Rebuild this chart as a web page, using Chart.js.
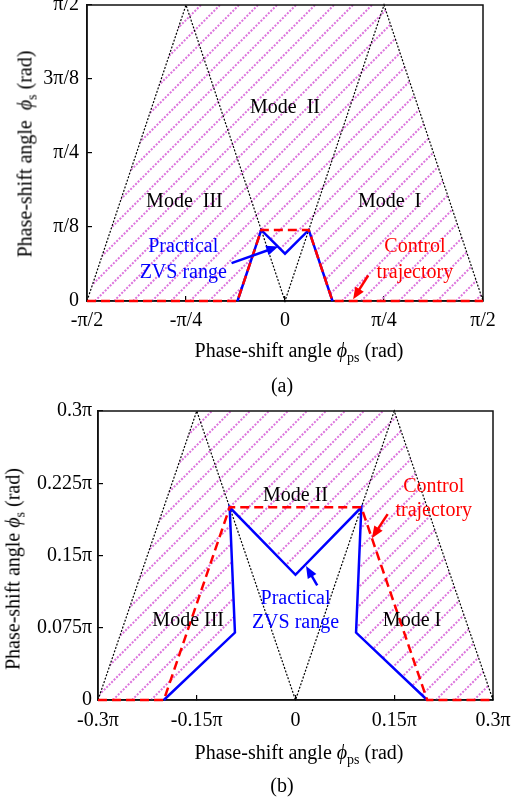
<!DOCTYPE html>
<html lang="en">
<head>
  <meta charset="UTF-8">
  <title>Phase-shift angle ZVS range</title>
  <script src="https://cdn.jsdelivr.net/npm/chart.js"></script>
  <style>
    body {
      margin: 0;
      width: 513px;
      height: 803px;
      position: relative;
      overflow: hidden;
      background: #fff;
      font-family: 'Liberation Serif', 'Times New Roman', serif;
    }
    canvas { position: absolute; left: 0; }
    #chartA { top: 0; }
    #chartB { top: 400px; }
    .label {
      position: absolute;
      font-size: 20px;
      color: #000;
      white-space: nowrap;
      transform: translate(-50%, -50%);
    }
    .ytitle { transform: translate(-50%, -50%) rotate(-90deg); }
    .phi { font-style: italic; }
    .sub { font-size: 14px; position: relative; top: 5px; }
  </style>
</head>
<body>
  <canvas id="chartA" width="513" height="400"></canvas>
  <canvas id="chartB" width="513" height="403"></canvas>

  <div class="label ytitle" style="left:25px; top:154px">Phase-shift angle&nbsp; <span class="phi">ϕ</span><span class="sub">s</span> (rad)</div>
  <div class="label" style="left:299px; top:350px">Phase-shift angle <span class="phi">ϕ</span><span class="sub">ps</span> (rad)</div>
  <div class="label" style="left:282px; top:385px">(a)</div>

  <div class="label ytitle" style="left:13px; top:569px">Phase-shift angle <span class="phi">ϕ</span><span class="sub">s</span> (rad)</div>
  <div class="label" style="left:299px; top:752px">Phase-shift angle <span class="phi">ϕ</span><span class="sub">ps</span> (rad)</div>
  <div class="label" style="left:282px; top:785px">(b)</div>

  <script>
    // all angles are in units of pi rad

    // (a)
    const xTicksA = [-0.5, -0.25, 0, 0.25, 0.5];
    const xTickLabelsA = ['-π/2', '-π/4', '0', 'π/4', 'π/2'];
    const yTicksA = [0, 0.125, 0.25, 0.375, 0.5];
    const yTickLabelsA = ['0', 'π/8', 'π/4', '3π/8', 'π/2'];
    const boundXA = [-0.5, -0.25, 0, 0.25, 0.5];
    const boundYA = [0, 0.5, 0, 0.5, 0];
    const zvsXA = [-0.12, -0.06, 0, 0.06, 0.12];
    const zvsYA = [0, 0.12, 0.08, 0.12, 0];
    const trajXA = [-0.5, -0.12, -0.06, 0.06, 0.12, 0.5];
    const trajYA = [0, 0, 0.12, 0.12, 0, 0];

    // (b)
    const xTicksB = [-0.3, -0.15, 0, 0.15, 0.3];
    const xTickLabelsB = ['-0.3π', '-0.15π', '0', '0.15π', '0.3π'];
    const yTicksB = [0, 0.075, 0.15, 0.225, 0.3];
    const yTickLabelsB = ['0', '0.075π', '0.15π', '0.225π', '0.3π'];
    const boundXB = [-0.3, -0.15, 0, 0.15, 0.3];
    const boundYB = [0, 0.3, 0, 0.3, 0];
    const zvsXB = [-0.2, -0.092, -0.1, 0, 0.1, 0.092, 0.2];
    const zvsYB = [0, 0.07, 0.2, 0.13, 0.2, 0.07, 0];
    const trajXB = [-0.3, -0.2, -0.1, 0.1, 0.2, 0.3];
    const trajYB = [0, 0, 0.2, 0.2, 0, 0];

    const FONT = "'Liberation Serif', 'Times New Roman', serif";

    const pts = (xs, ys) => xs.map((x, i) => ({ x: x, y: ys[i] }));

    // hatched area: outer envelope of the mode boundaries minus the area under the ZVS curve
    function hatchRegion(bx, by, zx, zy) {
      const outer = [0, 1, 3, 4].map(i => ({ x: bx[i], y: by[i] }));
      return outer.concat(pts(zx, zy).reverse());
    }

    function drawArrow(ctx, x0, y0, x1, y1, color) {
      const a = Math.atan2(y1 - y0, x1 - x0);
      const c = Math.cos(a), s = Math.sin(a);
      const len = 12, half = 5;
      ctx.save();
      ctx.strokeStyle = color;
      ctx.fillStyle = color;
      ctx.lineWidth = 2.5;
      ctx.beginPath();
      ctx.moveTo(x0, y0);
      ctx.lineTo(x1 - len * 0.8 * c, y1 - len * 0.8 * s);
      ctx.stroke();
      ctx.beginPath();
      ctx.moveTo(x1, y1);
      ctx.lineTo(x1 - len * c + half * s, y1 - len * s - half * c);
      ctx.lineTo(x1 - len * c - half * s, y1 - len * s + half * c);
      ctx.closePath();
      ctx.fill();
      ctx.restore();
    }

    function extrasPlugin(region, notes, arrows) {
      return {
        id: 'zvsExtras',
        beforeDatasetsDraw(chart) {
          const { ctx, chartArea: a, scales: { x, y } } = chart;
          ctx.save();
          ctx.beginPath();
          region.forEach((p, i) => {
            const px = x.getPixelForValue(p.x), py = y.getPixelForValue(p.y);
            if (i) ctx.lineTo(px, py); else ctx.moveTo(px, py);
          });
          ctx.closePath();
          ctx.clip();
          ctx.strokeStyle = '#dc74dc';
          ctx.lineWidth = 2;
          ctx.setLineDash([2, 1.5]);
          const step = 19;
          const h = a.bottom - a.top;
          for (let sx = a.left - h; sx < a.right + step; sx += step) {
            ctx.beginPath();
            ctx.moveTo(sx, a.bottom);
            ctx.lineTo(sx + h, a.top);
            ctx.stroke();
          }
          ctx.restore();

          ctx.save();
          ctx.strokeStyle = '#111';
          ctx.lineWidth = 1.5;
          ctx.strokeRect(a.left, a.top, a.right - a.left, a.bottom - a.top);
          ctx.restore();
        },
        afterDatasetsDraw(chart) {
          const { ctx, scales: { x, y } } = chart;
          arrows.forEach(ar => drawArrow(ctx,
            x.getPixelForValue(ar.from[0]), y.getPixelForValue(ar.from[1]),
            x.getPixelForValue(ar.to[0]), y.getPixelForValue(ar.to[1]), ar.color));
          ctx.save();
          ctx.font = '20px ' + FONT;
          ctx.textAlign = 'center';
          ctx.textBaseline = 'middle';
          notes.forEach(n => {
            ctx.fillStyle = n.color;
            ctx.fillText(n.text, x.getPixelForValue(n.at[0]), y.getPixelForValue(n.at[1]));
          });
          ctx.restore();
        }
      };
    }

    function axes(xTicks, xLabels, yTicks, yLabels, yWidth, xHeight, xPad, yPad) {
      const common = {
        type: 'linear',
        grid: { drawOnChartArea: false, tickLength: -5, color: '#000', lineWidth: 1.2 },
        border: { display: true, color: '#111', width: 1.5 }
      };
      return {
        x: Object.assign({}, common, {
          min: xTicks[0],
          max: xTicks[xTicks.length - 1],
          afterBuildTicks: s => { s.ticks = xTicks.map(v => ({ value: v })); },
          afterFit: s => { s.height = xHeight; s.paddingLeft = 0; s.paddingRight = 0; },
          ticks: {
            callback: v => xLabels[xTicks.indexOf(v)],
            font: { family: FONT, size: 20 },
            color: '#000',
            padding: xPad,
            maxRotation: 0,
            autoSkip: false
          }
        }),
        y: Object.assign({}, common, {
          min: yTicks[0],
          max: yTicks[yTicks.length - 1],
          afterBuildTicks: s => { s.ticks = yTicks.map(v => ({ value: v })); },
          afterFit: s => { s.width = yWidth; s.paddingTop = 0; s.paddingBottom = 0; },
          ticks: {
            callback: v => yLabels[yTicks.indexOf(v)],
            font: { family: FONT, size: 20 },
            color: '#000',
            padding: yPad,
            autoSkip: false
          }
        })
      };
    }

    // first dataset ends up on top: trajectory, then ZVS curve, then mode boundaries
    function lineSets(bx, by, zx, zy, tx, ty) {
      return [
        {
          data: pts(tx, ty), showLine: true, borderColor: '#ff0000', borderWidth: 2.5,
          borderDash: [9, 5], pointRadius: 0, clip: false
        },
        {
          data: pts(zx, zy), showLine: true, borderColor: '#0000ff', borderWidth: 2.5,
          pointRadius: 0, clip: false
        },
        {
          data: pts(bx, by), showLine: true, borderColor: '#000', borderWidth: 1.2,
          borderDash: [2, 1.6], pointRadius: 0, clip: false
        }
      ];
    }

    function baseOptions(scales, padding) {
      return {
        responsive: false,
        animation: false,
        devicePixelRatio: 1,
        layout: { padding: padding },
        plugins: { legend: { display: false }, tooltip: { enabled: false } },
        scales: scales
      };
    }

    const notesA = [
      { text: 'Mode  II', at: [0, 0.326], color: '#000' },
      { text: 'Mode  III', at: [-0.254, 0.167], color: '#000' },
      { text: 'Mode  I', at: [0.264, 0.167], color: '#000' },
      { text: 'Practical', at: [-0.257, 0.091], color: '#0000ff' },
      { text: 'ZVS range', at: [-0.257, 0.047], color: '#0000ff' },
      { text: 'Control', at: [0.328, 0.091], color: '#ff0000' },
      { text: 'trajectory', at: [0.328, 0.047], color: '#ff0000' }
    ];
    const arrowsA = [
      { from: [-0.135, 0.064], to: [-0.017, 0.092], color: '#0000ff' },
      { from: [0.21, 0.043], to: [0.172, 0.003], color: '#ff0000' }
    ];

    const notesB = [
      { text: 'Mode II', at: [0, 0.212], color: '#000' },
      { text: 'Mode III', at: [-0.163, 0.082], color: '#000' },
      { text: 'Mode I', at: [0.177, 0.082], color: '#000' },
      { text: 'Practical', at: [0, 0.105], color: '#0000ff' },
      { text: 'ZVS range', at: [0, 0.08], color: '#0000ff' },
      { text: 'Control', at: [0.21, 0.221], color: '#ff0000' },
      { text: 'trajectory', at: [0.21, 0.196], color: '#ff0000' }
    ];
    const arrowsB = [
      { from: [0.033, 0.119], to: [0.016, 0.139], color: '#0000ff' },
      { from: [0.14, 0.193], to: [0.116, 0.168], color: '#ff0000' }
    ];

    new Chart(document.getElementById('chartA'), {
      type: 'scatter',
      data: { datasets: lineSets(boundXA, boundYA, zvsXA, zvsYA, trajXA, trajYA) },
      options: baseOptions(
        axes(xTicksA, xTickLabelsA, yTicksA, yTickLabelsA, 87, 99, 13, 13),
        { left: 0, top: 5, right: 30, bottom: 0 }
      ),
      plugins: [extrasPlugin(hatchRegion(boundXA, boundYA, zvsXA, zvsYA), notesA, arrowsA)]
    });

    new Chart(document.getElementById('chartB'), {
      type: 'scatter',
      data: { datasets: lineSets(boundXB, boundYB, zvsXB, zvsYB, trajXB, trajYB) },
      options: baseOptions(
        axes(xTicksB, xTickLabelsB, yTicksB, yTickLabelsB, 98, 103, 14, 11),
        { left: 0, top: 11, right: 20, bottom: 0 }
      ),
      plugins: [extrasPlugin(hatchRegion(boundXB, boundYB, zvsXB, zvsYB), notesB, arrowsB)]
    });
  </script>
</body>
</html>
